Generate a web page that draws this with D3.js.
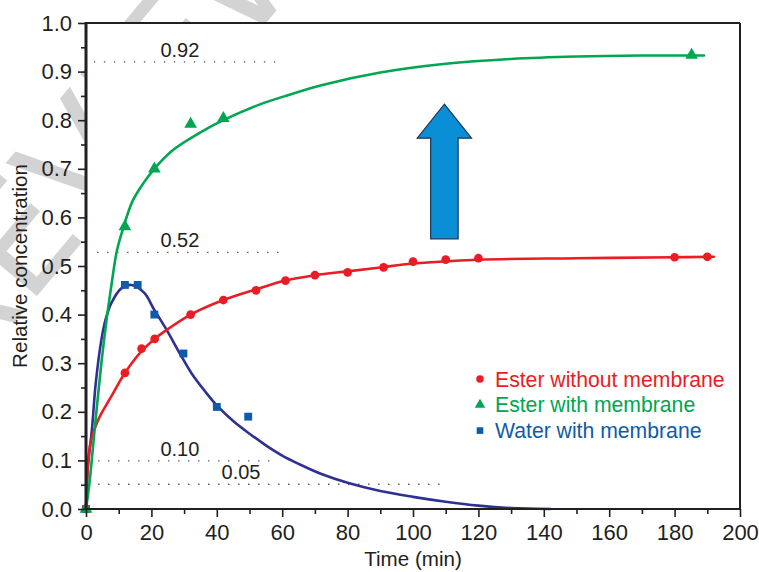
<!DOCTYPE html>
<html>
<head>
<meta charset="utf-8">
<script src="https://cdn.jsdelivr.net/npm/d3@7"></script>
<style>
  html, body { margin: 0; padding: 0; background: #fff; }
  svg { display: block; font-family: "Liberation Sans", Arial, Helvetica, sans-serif; }
</style>
</head>
<body>
<svg id="chart" width="759" height="572"></svg>
<script>
// ---------- data ----------
const xTicks = [0, 20, 40, 60, 80, 100, 120, 140, 160, 180, 200];
const yTicks = [0.0, 0.1, 0.2, 0.3, 0.4, 0.5, 0.6, 0.7, 0.8, 0.9, 1.0];

// measured points
const esterNoMemT = [0, 11.9, 17, 21, 32, 42, 52, 61, 70, 80, 91, 100, 110, 120, 180, 190];
const esterNoMemC = [0, 0.28, 0.33, 0.35, 0.40, 0.43, 0.45, 0.47, 0.481, 0.487, 0.497, 0.509, 0.513, 0.516, 0.518, 0.519];

const esterMemT = [0, 11.9, 20.9, 32, 42, 185.2];
const esterMemC = [0, 0.581, 0.70, 0.792, 0.804, 0.934];

const waterMemT = [0, 11.9, 15.8, 20.9, 29.8, 40, 49.6];
const waterMemC = [0, 0.461, 0.461, 0.40, 0.32, 0.21, 0.19];

// fitted curves
const esterNoMemFitT = [0, 0.3, 0.6, 1.5, 3.7, 7.6, 11.8, 17, 21, 25, 32, 42, 52, 61, 70, 80, 90, 100, 120, 150, 180, 192];
const esterNoMemFitC = [0, 0.05, 0.095, 0.14, 0.183, 0.23, 0.279, 0.325, 0.35, 0.37, 0.40, 0.43, 0.452, 0.47, 0.481, 0.489, 0.497, 0.505, 0.513, 0.516, 0.518, 0.519];

const esterMemFitT = [0, 1, 2.6, 4.7, 6.5, 7.7, 9.4, 10.8, 12, 14.4, 17.5, 20.9, 26.7, 35, 42, 53, 62, 72, 90, 110, 130, 150, 170, 189];
const esterMemFitC = [0, 0.05, 0.16, 0.30, 0.40, 0.457, 0.53, 0.565, 0.592, 0.636, 0.67, 0.70, 0.739, 0.775, 0.80, 0.832, 0.852, 0.872, 0.898, 0.916, 0.926, 0.931, 0.933, 0.933];

const waterMemFitT = [0, 0.5, 1.8, 3, 4.7, 6, 7.7, 10.8, 13.9, 17.9, 20.6, 24.7, 28.7, 32.3, 36.9, 40, 45, 50, 55, 60, 65, 72, 80, 90, 100, 110, 120, 130, 142];
const waterMemFitC = [0, 0.08, 0.163, 0.26, 0.348, 0.39, 0.423, 0.454, 0.461, 0.444, 0.413, 0.368, 0.32, 0.279, 0.238, 0.213, 0.181, 0.155, 0.131, 0.11, 0.093, 0.072, 0.054, 0.037, 0.025, 0.015, 0.007, 0.002, 0];

// dotted reference levels
const refLevels = [0.92, 0.528, 0.099, 0.051];
const refLabels = ["0.92", "0.52", "0.10", "0.05"];
const refStartT = [2.4, 3.4, 3.7, 3.7];
const refEndT   = [60.2, 61, 58.4, 108.8];
const refLabelT = [28.7, 28.7, 28.7, 47.4];

const seriesNames = ["Ester without membrane", "Ester with membrane", "Water with membrane"];

// ---------- layout ----------
const svg = d3.select("#chart");
const m = { left: 86, right: 740, top: 23, bottom: 509 };
const x = d3.scaleLinear().domain([0, 200]).range([m.left, m.right]);
const y = d3.scaleLinear().domain([0, 1]).range([m.bottom, m.top]);

const RED = "#ec1c24", GREEN = "#00a651", BLUE = "#0f5bab", NAVY = "#2e3192";
const TXT = "#231f20";

// watermark (visible only outside the plot area)
svg.append("text")
  .attr("transform", "translate(110,128) rotate(-50)")
  .attr("text-anchor", "middle")
  .attr("dominant-baseline", "central")
  .attr("font-size", 150)
  .attr("font-family", "DejaVu Sans, sans-serif")
  .attr("fill", "#d3d3d3")
  .text("REVIEW");

// plot background covers watermark
svg.append("rect")
  .attr("x", m.left).attr("y", m.top)
  .attr("width", m.right - m.left).attr("height", m.bottom - m.top)
  .attr("fill", "#fff");

// dotted reference lines + labels
refLevels.forEach((lv, i) => {
  svg.append("line")
    .attr("x1", x(refStartT[i])).attr("x2", x(refEndT[i]))
    .attr("y1", y(lv)).attr("y2", y(lv))
    .attr("stroke", "#555").attr("stroke-width", 1.4)
    .attr("stroke-dasharray", "1.4,8.6");
  svg.append("text")
    .attr("x", x(refLabelT[i])).attr("y", y(lv) - 5)
    .attr("text-anchor", "middle")
    .attr("font-size", 20).attr("fill", TXT)
    .text(refLabels[i]);
});

// curves
const line = d3.line().x(d => x(d[0])).y(d => y(d[1])).curve(d3.curveCatmullRom.alpha(0.5));
function fit(ts, cs, color) {
  svg.append("path")
    .attr("d", line(ts.map((t, i) => [t, cs[i]])))
    .attr("fill", "none").attr("stroke", color)
    .attr("stroke-width", 2.6).attr("stroke-linecap", "round");
}
fit(waterMemFitT, waterMemFitC, NAVY);
fit(esterNoMemFitT, esterNoMemFitC, RED);
fit(esterMemFitT, esterMemFitC, GREEN);

// markers
const circ = d3.symbol().type(d3.symbolCircle).size(60);
const tri = d3.symbol().type(d3.symbolTriangle).size(70);
const sq = d3.symbol().type(d3.symbolSquare).size(62);
function pts(ts, cs, sym, color) {
  ts.forEach((t, i) => {
    svg.append("path")
      .attr("d", sym())
      .attr("transform", `translate(${x(t)},${y(cs[i])})`)
      .attr("fill", color);
  });
}
pts(waterMemT, waterMemC, sq, BLUE);
pts(esterNoMemT, esterNoMemC, circ, RED);
pts(esterMemT, esterMemC, tri, GREEN);

// big arrow (data-space annotation)
const arrowT = 109.6, arrowTip = 0.833, arrowHeadBase = 0.763, arrowBottom = 0.556;
const headHalf = 8.3, shaftHalf = 4.2;
const ap = [
  [arrowT, arrowTip],
  [arrowT + headHalf, arrowHeadBase],
  [arrowT + shaftHalf, arrowHeadBase],
  [arrowT + shaftHalf, arrowBottom],
  [arrowT - shaftHalf, arrowBottom],
  [arrowT - shaftHalf, arrowHeadBase],
  [arrowT - headHalf, arrowHeadBase]
];
svg.append("path")
  .attr("d", "M" + ap.map(p => [x(p[0]), y(p[1])].join(",")).join("L") + "Z")
  .attr("fill", "#0a8fd6").attr("stroke", "#1d3550").attr("stroke-width", 1.2);

// frame (top & right)
svg.append("line").attr("x1", m.left).attr("x2", m.right).attr("y1", m.top).attr("y2", m.top)
  .attr("stroke", TXT).attr("stroke-width", 2);
svg.append("line").attr("x1", m.right).attr("x2", m.right).attr("y1", m.top).attr("y2", m.bottom)
  .attr("stroke", TXT).attr("stroke-width", 2);

// x axis
const xMinor = d3.range(10, 200, 20);
const gx = svg.append("g").attr("transform", `translate(0,${m.bottom})`);
gx.call(d3.axisBottom(x).tickValues(xTicks).tickSize(8).tickPadding(7).tickFormat(d3.format("d")));
const gxm = svg.append("g").attr("transform", `translate(0,${m.bottom})`);
gxm.call(d3.axisBottom(x).tickValues(xMinor).tickSize(5).tickFormat(""));
[gx, gxm].forEach(g => {
  g.select(".domain").remove();
  g.selectAll(".tick line").attr("stroke", TXT).attr("stroke-width", 1.6);
  g.selectAll(".tick text").attr("font-size", 22).attr("fill", TXT).attr("font-family", null);
});
svg.append("line").attr("x1", m.left - 1).attr("x2", m.right + 1).attr("y1", m.bottom).attr("y2", m.bottom)
  .attr("stroke", TXT).attr("stroke-width", 2.2);

// y axis
const yMinor = d3.range(0.05, 1.0, 0.1);
const gy = svg.append("g").attr("transform", `translate(${m.left},0)`);
gy.call(d3.axisLeft(y).tickValues(yTicks).tickSize(8).tickPadding(6).tickFormat(d3.format(".1f")));
const gym = svg.append("g").attr("transform", `translate(${m.left},0)`);
gym.call(d3.axisLeft(y).tickValues(yMinor).tickSize(5).tickFormat(""));
[gy, gym].forEach(g => {
  g.select(".domain").remove();
  g.selectAll(".tick line").attr("stroke", TXT).attr("stroke-width", 1.6);
  g.selectAll(".tick text").attr("font-size", 22).attr("fill", TXT).attr("font-family", null);
});
svg.append("line").attr("x1", m.left).attr("x2", m.left).attr("y1", m.top - 1).attr("y2", m.bottom + 1)
  .attr("stroke", TXT).attr("stroke-width", 3);

// axis titles
svg.append("text").attr("x", (m.left + m.right) / 2).attr("y", 566)
  .attr("text-anchor", "middle").attr("font-size", 20.6).attr("fill", TXT)
  .text("Time (min)");
svg.append("text").attr("transform", `translate(27,${(m.top + m.bottom) / 2}) rotate(-90)`)
  .attr("text-anchor", "middle").attr("font-size", 20.6).attr("fill", TXT)
  .text("Relative concentration");

// legend
const legColors = [RED, GREEN, BLUE];
const legSyms = [
  d3.symbol().type(d3.symbolCircle).size(44),
  d3.symbol().type(d3.symbolTriangle).size(48),
  d3.symbol().type(d3.symbolSquare).size(44)
];
seriesNames.forEach((name, i) => {
  const ly = 379 + i * 25.8;
  svg.append("path").attr("d", legSyms[i]()).attr("transform", `translate(480,${ly})`)
    .attr("fill", legColors[i]);
  svg.append("text").attr("x", 495).attr("y", ly).attr("dy", "0.36em")
    .attr("font-size", 21.2).attr("fill", legColors[i])
    .text(name);
});
</script>
</body>
</html>
